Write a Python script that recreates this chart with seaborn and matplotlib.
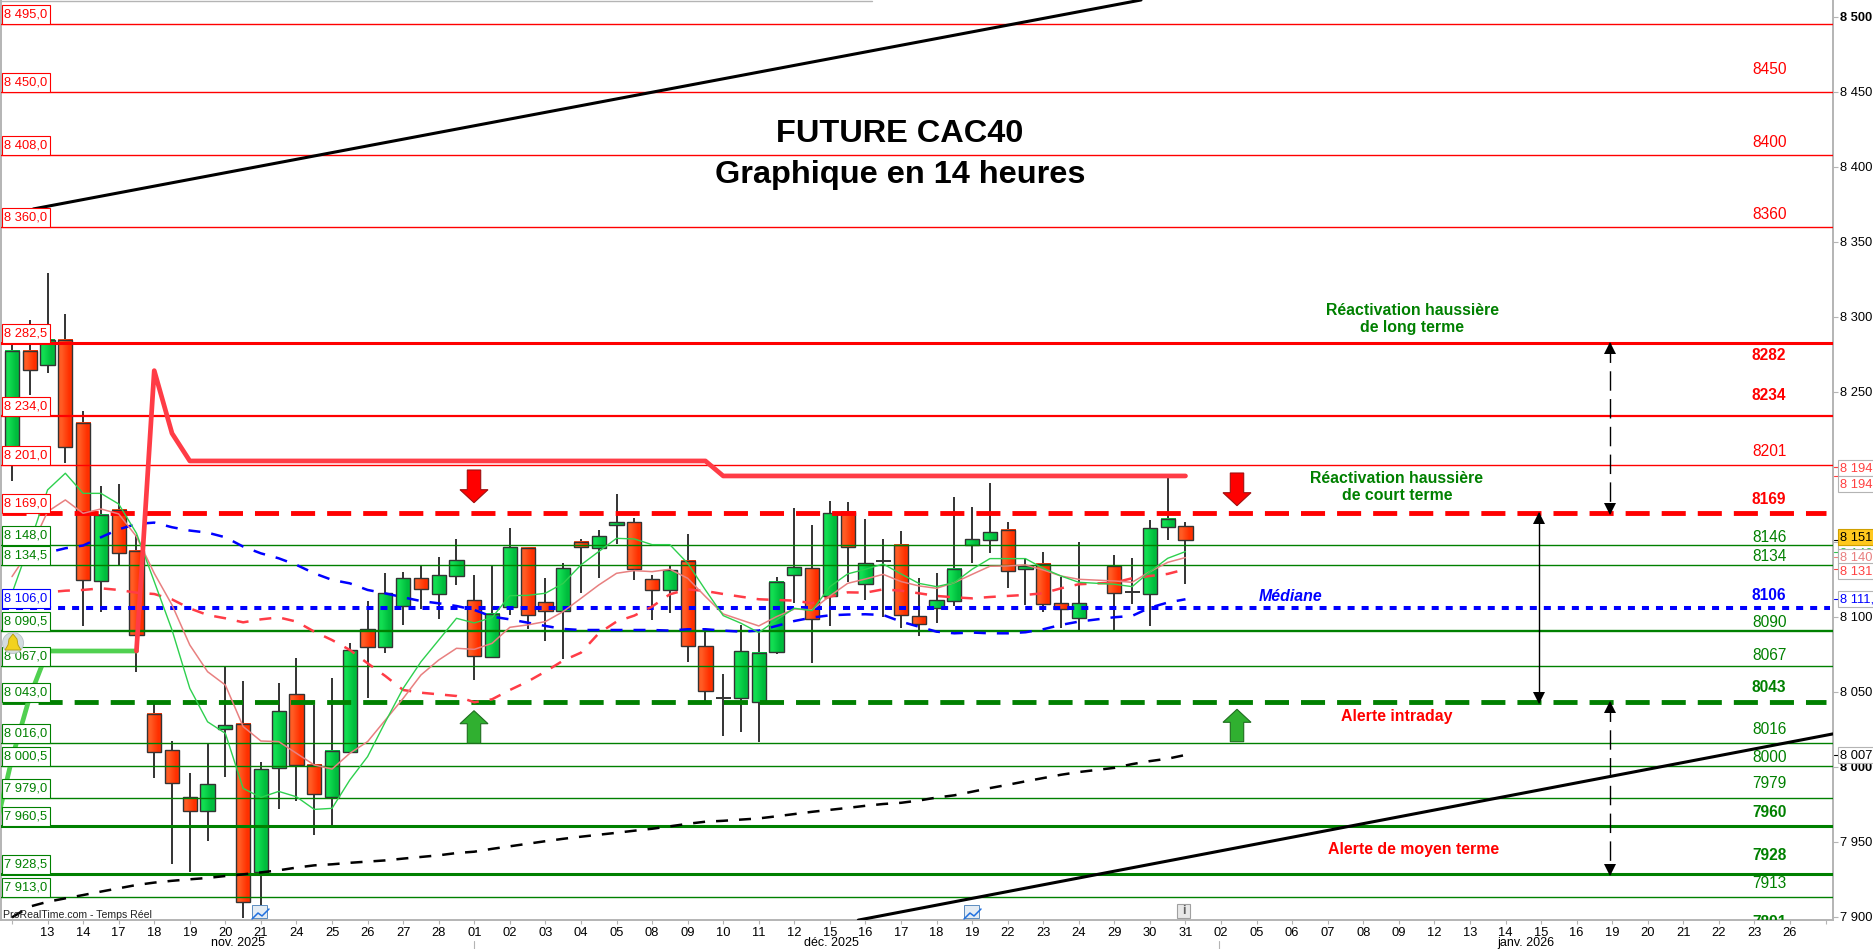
#<<---Future CAC40 14h chart--->>#
import matplotlib as mlp
mlp.use('Agg')
import matplotlib.pyplot as plt
from matplotlib.patches import Circle, Polygon, Rectangle
from matplotlib.transforms import Affine2D
import numpy as np
import pandas as pd
import seaborn as sns

#>> Candles (index 61 has no candle, the session is missing)
idx = [k for k in range(67) if k != 61]
opens = [8205, 8277.5, 8267.7, 8284.8, 8229, 8123.6, 8171, 8143.9, 8035, 8011,
         7979.6, 7970.3, 8025, 8028.3, 7930, 7999, 8048.3, 8001, 7979.6, 8009.6,
         8091.6, 8080, 8107.2, 8125.6, 8115, 8127.5, 8111, 8073, 8106.3, 8145.7,
         8109.7, 8103.7, 8149.7, 8145.7, 8161, 8163, 8125, 8117.7, 8137, 8080.3,
         8045.9, 8045.7, 8043, 8076.3, 8127.7, 8132.3, 8113.7, 8170, 8121.7, 8137.5,
         8147.7, 8100.3, 8105.7, 8110.3, 8147.7, 8151, 8157.7, 8131.7, 8135, 8109,
         8099, 8134, 8116.6, 8115, 8159.7, 8160.3]
closes = [8277.5, 8264.3, 8284.8, 8213, 8124.3, 8167.9, 8142.3, 8087.6, 8009.6, 7989,
          7970.3, 7988.3, 8027.6, 7909.6, 7998.3, 8037, 8001, 7981.6, 8010.3, 8077.6,
          8079.6, 8115.6, 8125.6, 8118.3, 8127.6, 8137.7, 8073.7, 8101.7, 8146.3, 8101,
          8103.7, 8132.3, 8146.3, 8153.7, 8163, 8131.7, 8117.7, 8131, 8080.3, 8050.3,
          8045.9, 8077, 8075.7, 8123, 8133, 8098.3, 8169, 8146.3, 8135.7, 8137.5,
          8101, 8095, 8111, 8131.7, 8151.7, 8156.3, 8130.3, 8133.7, 8108.3, 8105,
          8109, 8115.7, 8116.6, 8159, 8165.5, 8151]
highs = [8282, 8297.9, 8329, 8301.9, 8237.2, 8187.2, 8188.6, 8154.6, 8043, 8017,
         7995.6, 8016, 8066.8, 8057.2, 8003, 8055.6, 8072.3, 8041, 8059.2, 8082.3,
         8110.3, 8129, 8130, 8134, 8139.7, 8151.7, 8127.9, 8134, 8159, 8146.3,
         8125.9, 8135.7, 8151.7, 8157.7, 8181.9, 8165.7, 8127.7, 8133.9, 8155, 8090.3,
         8061.9, 8094.6, 8089.7, 8126.3, 8172.3, 8161, 8177, 8176.3, 8165, 8151.9,
         8157, 8125.7, 8129, 8179.7, 8173, 8189, 8163, 8138.3, 8143, 8126.8,
         8149.7, 8141, 8139, 8164.6, 8192.3, 8163]
lows = [8190.8, 8247.9, 8262.3, 8202.8, 8093.9, 8103.4, 8134.6, 8063.4, 7992.8, 7935.2,
        7930, 7950.8, 7993.4, 7899.4, 7897.9, 7972, 7977.4, 7954.8, 7959.4, 8009.6,
        8045.6, 8076, 8094.5, 8105.2, 8098.8, 8121.4, 8057.9, 8073, 8101, 8092.1,
        8083.9, 8071.9, 8116.1, 8125.9, 8148.8, 8124.6, 8097.9, 8102.6, 8069.9, 8043,
        8020.6, 8023.2, 8016.3, 8075.2, 8109, 8069.5, 8094, 8123.2, 8111.2, 8100,
        8092.8, 8087.4, 8095.9, 8107.2, 8135.9, 8142.8, 8119.5, 8108.1, 8103.2, 8092.8,
        8090.8, 8090.8, 8108.6, 8093.9, 8151.2, 8122.1]

#>> Moving averages
ma_green = [8115.7, 8149, 8184.6, 8195.7, 8182.3, 8182.3, 8175.2, 8155.7, 8123.5, 8091.2,
            8052.3, 8030, 8022.3, 7985.6, 7979.6, 7983.6, 7980, 7971.6, 7972.3, 7991.2,
            8006.8, 8030, 8052.3, 8070, 8084.5, 8099, 8095.9, 8099.5, 8114.1, 8114.3,
            8115.7, 8122.3, 8134.6, 8143.5, 8152.3, 8151.9, 8148.1, 8148.1, 8135.7, 8117.9,
            8100.8, 8095.7, 8089.5, 8097.9, 8105.7, 8104.1, 8120.1, 8128.6, 8131.7, 8135.2,
            8128.6, 8122.3, 8120.1, 8122.8, 8131.7, 8138.8, 8138.8, 8138.8, 8132.3, 8127.2,
            8123, 8121.7, 8120.1, 8130.1, 8139, 8143.5]
ma_salmon = [8126.8, 8144.6, 8170.1, 8177.9, 8169, 8171.9, 8168.6, 8153.5, 8129, 8107.9,
             8081.2, 8063.4, 8054.5, 8026.8, 8017.2, 8016.8, 8009, 8001.2, 7998.5, 8009,
             8016.8, 8031.2, 8045.6, 8061.2, 8071.2, 8079, 8078.3, 8082.3, 8093, 8094.6,
             8096.8, 8103.5, 8112.3, 8121.2, 8129, 8130.8, 8130.1, 8131.7, 8125.7, 8113.5,
             8101.9, 8097.9, 8093.9, 8100.1, 8105.2, 8104.6, 8113.9, 8122.3, 8125.2, 8128.3,
             8123.5, 8120.6, 8119, 8122.8, 8128.3, 8133.7, 8133.9, 8134.6, 8131.2, 8127.2,
             8125, 8123.9, 8123, 8130.1, 8136.3, 8139.5]
ma_red = [8115.6, 8116, 8116.3, 8117.4, 8117.9, 8119, 8117.9, 8116.1, 8115.2, 8111.6,
          8105.6, 8101.2, 8099, 8096.3, 8098.3, 8099.6, 8096.8, 8090.1, 8084.5, 8077.9,
          8069, 8060.5, 8051.2, 8049.4, 8048.3, 8047.2, 8043, 8045, 8051.2, 8056.8,
          8063.5, 8070.8, 8076.1, 8089, 8096.8, 8100.8, 8106.8, 8115, 8118.3, 8117.2,
          8115.2, 8113.4, 8111.7, 8111.2, 8110.8, 8109, 8113.4, 8116.3, 8116.1, 8118.3,
          8117.4, 8115.7, 8113.9, 8113, 8112.3, 8113.2, 8113.9, 8114.6, 8115.7, 8119,
          8121.7, 8122.8, 8125.7, 8127.2, 8128.6, 8131.7]
ma_blue = [8135.7, 8139, 8142.8, 8145.7, 8147.5, 8153, 8158.3, 8161.9, 8162.8, 8159.7,
           8157.5, 8156.1, 8153, 8146.8, 8142.3, 8139, 8134.6, 8129, 8124.6, 8122.3,
           8117.9, 8115.6, 8113, 8110.5, 8109, 8107.2, 8104.6, 8100.1, 8098.3, 8096.1,
           8093.9, 8091.9, 8091.2, 8091.2, 8091.2, 8091.2, 8091.2, 8090.8, 8091.7, 8091.7,
           8090.8, 8090.1, 8090.8, 8093.9, 8097.2, 8099.5, 8101, 8101.5, 8101.7, 8101.2,
           8096.8, 8093.4, 8090.1, 8089, 8089.5, 8089, 8089, 8089.7, 8091.7, 8094.6,
           8096.8, 8099.7, 8100.6, 8106.1, 8109.5, 8111.7]
ma_black = [7899.6, 7906.8, 7910, 7912.3, 7914.5, 7916.8, 7919, 7921.2, 7922.8, 7924,
            7925, 7925.9, 7927.2, 7928.3, 7929.6, 7931, 7932.8, 7934.3, 7935, 7936,
            7936.8, 7937.6, 7938.8, 7939.9, 7941, 7942.5, 7943.4, 7945.3, 7947, 7948.7,
            7950.4, 7952, 7953.4, 7954.7, 7956, 7957.4, 7958.7, 7960.3, 7962, 7963.4,
            7964, 7964.8, 7965.6, 7967, 7968.5, 7970, 7971.3, 7972.6, 7974, 7975.2,
            7976, 7977.5, 7979.5, 7981, 7983.4, 7985.8, 7988, 7990.3, 7992.5, 7994.7,
            7996.5, 7999.3, 8001.8, 8003.8, 8005.4, 8007.9]

#>> Thick stop line and trend lines
stop_green_k = [-1, 0, 1, 2, 3, 4, 5, 6, 7]
stop_green = [7955, 8005.6, 8046.8, 8077.2, 8077.2, 8077.2, 8077.2, 8077.2, 8077.2]
stop_red_k = [7, 8, 9, 10, 39, 40, 66]
stop_red = [8077.2, 8264.1, 8222.3, 8203.9, 8203.9, 8193.9, 8193.9]
trend_up_k = [1.2, 63.5]
trend_up = [8371.9, 8511.2]
trend_low_k = [47.6, 102.4]
trend_low = [7897.8, 8021.9]

#>> Levels
levels_red = [8495, 8450, 8408, 8360, 8282.5, 8234, 8201]
levels_red_lw = [1, 1, 1, 1, 2.2, 1.6, 1]
levels_green = [8148, 8134.5, 8090.5, 8067, 8016, 8000.5, 7979, 7960.5, 7928.5, 7913]
levels_green_lw = [1, 1, 1.7, 1, 1, 1, 1, 2.2, 2.2, 1]
level_res = 8169
level_sup = 8043
level_med = 8106

left_labels = [(8495, 'r'), (8450, 'r'), (8408, 'r'), (8360, 'r'), (8282.5, 'r'), (8234, 'r'),
               (8201, 'r'), (8169, 'r'), (8148, 'g'), (8134.5, 'g'), (8106, 'b'), (8090.5, 'g'),
               (8067, 'g'), (8043, 'g'), (8016, 'g'), (8000.5, 'g'), (7979, 'g'), (7960.5, 'g'),
               (7928.5, 'g'), (7913, 'g')]
# text, colour, weight, price of the text centre
right_labels = [('8495', 'r', 'normal', 8514), ('8450', 'r', 'normal', 8465.2), ('8400', 'r', 'normal', 8416.5),
                ('8360', 'r', 'normal', 8367.9), ('8282', 'r', 'bold', 8274.5), ('8234', 'r', 'bold', 8247.5),
                ('8201', 'r', 'normal', 8210.5), ('8169', 'r', 'bold', 8178.5), ('8146', 'g', 'normal', 8153.2),
                ('8134', 'g', 'normal', 8140.5), ('8106', 'b', 'bold', 8114.5), ('8090', 'g', 'normal', 8096.5),
                ('8067', 'g', 'normal', 8074.5), ('8043', 'g', 'bold', 8053), ('8016', 'g', 'normal', 8025),
                ('8000', 'g', 'normal', 8006.5), ('7979', 'g', 'normal', 7989), ('7960', 'g', 'bold', 7969.5),
                ('7928', 'g', 'bold', 7940.8), ('7913', 'g', 'normal', 7921.9), ('7891', 'g', 'bold', 7896.5)]

x_labels = ['13', '14', '17', '18', '19', '20', '21', '24', '25', '26', '27', '28', '01', '02', '03', '04', '05',
            '08', '09', '10', '11', '12', '15', '16', '17', '18', '19', '22', '23', '24', '29', '30', '31', '02',
            '05', '06', '07', '08', '09', '12', '13', '14', '15', '16', '19', '20', '21', '22', '23', '26']
y_ticks = list(range(7900, 8501, 50))

#>> Page set-up
W, H = 1874, 949
sns.set_theme(style='white')
plt.rcParams['font.family'] = ['Liberation Sans', 'DejaVu Sans']
COL = {'r': '#FF0000', 'g': '#008000', 'b': '#0000FF'}
GREY = '#B4B4B4'
DARK = '#333333'

fig = plt.figure(figsize=(W / 100, H / 100), dpi=100, facecolor='white')
ax = fig.add_axes([1 / W, 1 - 920 / H, 1832 / W, 920 / H])
px = Affine2D().scale(1, -1).translate(0, H)  # pixels from the top left corner

df = pd.DataFrame({'k': idx, 'open': opens, 'close': closes, 'high': highs, 'low': lows,
                   'ma_green': ma_green, 'ma_salmon': ma_salmon, 'ma_red': ma_red,
                   'ma_blue': ma_blue, 'ma_black': ma_black})

#>> Candles
ax.vlines(df['k'], df['low'], df['high'], color=DARK, lw=1.4, zorder=2)
for _, c in df.iterrows():
    if c['close'] == c['open']:
        ax.hlines(c['close'], c['k'] - 0.42, c['k'] + 0.42, color=DARK, lw=1.4, zorder=3)
        continue
    if c['close'] > c['open']:
        grad = np.array([[[0.07, 0.87, 0.32], [0.0, 0.74, 0.24]]])
    else:
        grad = np.array([[[1.0, 0.36, 0.14], [1.0, 0.19, 0.0]]])
    lo, hi = sorted([c['open'], c['close']])
    ax.imshow(grad, extent=(c['k'] - 0.4, c['k'] + 0.4, lo, hi), aspect='auto',
              interpolation='bilinear', zorder=3)
    ax.add_patch(Rectangle((c['k'] - 0.4, lo), 0.8, hi - lo, fc='none', ec=DARK, lw=1, zorder=3.1))

#>> Levels
for v, w in zip(levels_red, levels_red_lw):
    ax.axhline(v, color=COL['r'], lw=w, zorder=4)
for v, w in zip(levels_green, levels_green_lw):
    ax.axhline(v, color=COL['g'], lw=w, zorder=4)
x_end = (1826 - 12) / 17.78
ax.plot([-0.56, x_end], [level_res] * 2, color=COL['r'], lw=3.5, ls=(0, (4.95, 2.47)),
        dash_capstyle='butt', zorder=4.5)
ax.plot([-0.56, x_end], [level_sup] * 2, color=COL['g'], lw=3.5, ls=(0, (4.95, 2.47)),
        dash_capstyle='butt', zorder=4.5)
ax.plot([-0.56, x_end + 0.2], [level_med] * 2, color=COL['b'], lw=2.9, ls=(0, (1.74, 1.74)),
        dash_capstyle='butt', zorder=4.5)

#>> Averages and stop line
dash = (0, (4.8, 4.4))
sns.lineplot(data=df, x='k', y='ma_black', ax=ax, color='black', lw=1.8, linestyle=dash,
             estimator=None, sort=False, legend=False, zorder=5)
sns.lineplot(data=df, x='k', y='ma_blue', ax=ax, color='#0000FF', lw=1.8, linestyle=dash,
             estimator=None, sort=False, legend=False, zorder=5)
sns.lineplot(data=df, x='k', y='ma_red', ax=ax, color='#FF3C46', lw=1.8, linestyle=dash,
             estimator=None, sort=False, legend=False, zorder=5)
sns.lineplot(data=df, x='k', y='ma_salmon', ax=ax, color='#E88080', lw=1.1,
             estimator=None, sort=False, legend=False, zorder=5)
sns.lineplot(data=df, x='k', y='ma_green', ax=ax, color='#2ED04E', lw=1,
             estimator=None, sort=False, legend=False, zorder=5)
sns.lineplot(x=stop_green_k, y=stop_green, ax=ax, color='#50D050', lw=3.4,
             estimator=None, sort=False, legend=False, zorder=5)
sns.lineplot(x=stop_red_k, y=stop_red, ax=ax, color='#FF3C46', lw=3.4,
             estimator=None, sort=False, legend=False, zorder=5.1)
sns.lineplot(x=trend_up_k, y=trend_up, ax=ax, color='black', lw=2.2,
             estimator=None, sort=False, legend=False, zorder=5)
sns.lineplot(x=trend_low_k, y=trend_low, ax=ax, color='black', lw=2.2,
             estimator=None, sort=False, legend=False, zorder=5)

#>> Distance arrows
k_solid, k_dash = (1539.3 - 12) / 17.78, (1610 - 12) / 17.78
ax.plot([k_solid] * 2, [level_res, level_sup], color='black', lw=1, zorder=6)
ax.plot(k_solid, level_res - 3, marker='^', ms=8.5, color='black', mew=0, zorder=6)
ax.plot(k_solid, level_sup + 3, marker='v', ms=8.5, color='black', mew=0, zorder=6)
for top, bottom in [(8282.5, level_res), (level_sup, 7928.5)]:
    ax.plot([k_dash] * 2, [top, bottom], color='black', lw=1, ls=(0, (14, 6)), zorder=6)
    ax.plot(k_dash, top - 3, marker='^', ms=8.5, color='black', mew=0, zorder=6)
    ax.plot(k_dash, bottom + 3, marker='v', ms=8.5, color='black', mew=0, zorder=6)

#>> Block arrows
def block_down(x, top, tip):
    pts = [(x - 6.7, top), (x + 6.7, top), (x + 6.7, tip - 13), (x + 14, tip - 13), (x, tip),
           (x - 14, tip - 13), (x - 6.7, tip - 13)]
    ax.add_patch(Polygon(pts, fc='#FF0000', ec='#A01010', lw=0.8, transform=px, zorder=7))

def block_up(x, tip, bottom):
    pts = [(x - 6.7, bottom), (x + 6.7, bottom), (x + 6.7, tip + 13), (x + 14, tip + 13), (x, tip),
           (x - 14, tip + 13), (x - 6.7, tip + 13)]
    ax.add_patch(Polygon(pts, fc='#30B030', ec='#1E6E1E', lw=0.8, transform=px, zorder=7))

block_down(474, 470, 502.7)
block_down(1237, 473, 505.7)
block_up(474, 710.7, 743.3)
block_up(1237, 709.3, 741.7)

#>> Left level boxes
for v, c in left_labels:
    y = 616.8 - (v - 8100) * 1.5
    ax.add_patch(Rectangle((2, y - 19), 48, 19, fc='white', ec=COL[c], lw=0.8, transform=px, zorder=8))
    txt = f'{v:,.1f}'.replace(',', ' ').replace('.', ',')
    ax.text(4.5, y - 9.5, txt, color=COL[c], fontsize=9.3, va='center', ha='left', transform=px, zorder=9)

#>> Right level texts
k_txt = (1752 - 12) / 17.78
for t, c, w, p in right_labels:
    ax.text(k_txt, p, t, color=COL[c], fontsize=11.2, fontweight=w, va='center', ha='left',
            clip_on=True, zorder=6)

#>> Comments
ax.text(900, 134.5, 'FUTURE CAC40', fontsize=23.4, fontweight='bold', color='black', ha='center', va='center', transform=px, zorder=7)
ax.text(900, 174.5, 'Graphique en 14 heures', fontsize=23.4, fontweight='bold', color='black', ha='center', va='center', transform=px, zorder=7)
ax.text(1412.5, 319, 'Réactivation haussière\nde long terme', fontsize=11.4, fontweight='bold', color=COL['g'],
        ha='center', va='center', linespacing=1.12, transform=px, zorder=7)
ax.text(1397, 487, 'Réactivation haussière\nde court terme', fontsize=11.4, fontweight='bold', color=COL['g'],
        ha='center', va='center', linespacing=1.12, transform=px, zorder=7)
ax.text(1290.7, 596.7, 'Médiane', fontsize=11.4, fontweight='bold', fontstyle='italic', color=COL['b'],
        ha='center', va='center', transform=px, zorder=7)
ax.text(1396.7, 716.7, 'Alerte intraday', fontsize=11.4, fontweight='bold', color=COL['r'],
        ha='center', va='center', transform=px, zorder=7)
ax.text(1413.7, 849.6, 'Alerte de moyen terme', fontsize=11.4, fontweight='bold', color=COL['r'],
        ha='center', va='center', transform=px, zorder=7)
ax.text(3, 915, 'ProRealTime.com - Temps Réel', fontsize=7.6, color='#222222', ha='left', va='center', transform=px, zorder=9)

#>> Icons
ax.add_patch(Circle((13, 643), 10.5, fc='#D4DCE0', ec='#B8C0C4', lw=0.6, transform=px, zorder=9.5))
ax.add_patch(Polygon([(5, 650), (8, 645), (9, 639), (13, 634), (17, 639), (18, 645), (21, 650)],
                     fc='#F2D21E', ec='#B09A10', lw=0.6, transform=px, zorder=9.6))
for x0 in (252, 964):
    ax.add_patch(Rectangle((x0, 905), 15, 13, fc='#E4ECF4', ec='#5C8CC0', lw=0.7, transform=px, zorder=9, clip_on=False))
    ax.plot([x0, x0 + 6, x0 + 10, x0 + 17], [919, 913, 916, 909], color='#2070E0', lw=1.1, transform=px, zorder=9.1)
ax.add_patch(Rectangle((1177, 904), 13, 14, fc='#E8E8E8', ec='#A0A0A0', lw=0.8, transform=px, zorder=9))
ax.text(1183.5, 911, 'i', fontsize=9, fontweight='bold', color='#606060', ha='center', va='center', transform=px, zorder=9.1)

#>> Boxes on the price axis
boxes = [('8 194,6', '#FF4040', 'white', GREY, 468.3, 466.7),
         ('8 194,6', '#FF4040', 'white', GREY, 484.3, 476.3),
         ('8 146,0', '#30C050', 'white', GREY, 553, 551.7),
         ('8 151,0', 'black', '#FFC81E', '#D0A000', 537, 540),
         ('8 140,0', '#E88080', 'white', GREY, 557, 556.7),
         ('8 131,0', '#FF4040', 'white', GREY, 571.3, 569),
         ('8 111,0', '#0000FF', 'white', GREY, 599.3, 599),
         ('8 007,0', 'black', 'white', GREY, 755, 755)]
for i, (t, c, bg, ec, yc, yt) in enumerate(boxes):
    ax.plot([1834, 1838], [yt, yt], color=c, lw=0.8, transform=px, clip_on=False, zorder=9)
    ax.add_patch(Rectangle((1838, yc - 8), 40, 16, fc=bg, ec=ec, lw=0.8, transform=px, clip_on=False, zorder=9 + i * 0.01))
    ax.text(1840, yc, t, color=c, fontsize=9.3, ha='left', va='center', transform=px, clip_on=False, zorder=9 + i * 0.01 + 0.005)

#>> Axes
ax.set_xlim((1 - 12) / 17.78, (1833 - 12) / 17.78)
ax.set_ylim(8100 - 303.2 / 1.5, 8100 + 616.8 / 1.5)
ax.set_xlabel('')
ax.set_ylabel('')
ax.set_xticks(np.arange(0, 103, 2))
ax.set_xticklabels([''] + x_labels + [''], fontsize=9.3, color='black')
ax.tick_params(axis='x', bottom=True, length=3.2, width=0.8, color=GREY, pad=1.5)
ax.yaxis.tick_right()
ax.set_yticks(y_ticks)
ax.set_yticklabels([f'{v:,}'.replace(',', ' ') for v in y_ticks], fontsize=9.3, color='black')
ax.tick_params(axis='y', right=True, length=3.6, width=0.8, color=GREY, pad=1.6)
for lab, v in zip(ax.get_yticklabels(), y_ticks):
    if v in (8000, 8500):
        lab.set_fontweight('bold')
for s in ('left', 'right', 'bottom'):
    ax.spines[s].set_color(GREY)
    ax.spines[s].set_linewidth(1.4)
ax.spines['top'].set_visible(False)
ax.plot([1, 872], [0.6, 0.6], color=GREY, lw=1, transform=px, clip_on=False, zorder=3)

for t, x in [('nov. 2025', 238), ('déc. 2025', 831), ('janv. 2026', 1526)]:
    fig.text(x / W, 1 - 943 / H, t, fontsize=9, color='black', ha='center', va='center')
for x in (474, 1219):
    fig.add_artist(plt.Line2D([x / W, x / W], [0, 1 - 941 / H], color=GREY, lw=0.8))

fig.savefig('out.png', dpi=100)
